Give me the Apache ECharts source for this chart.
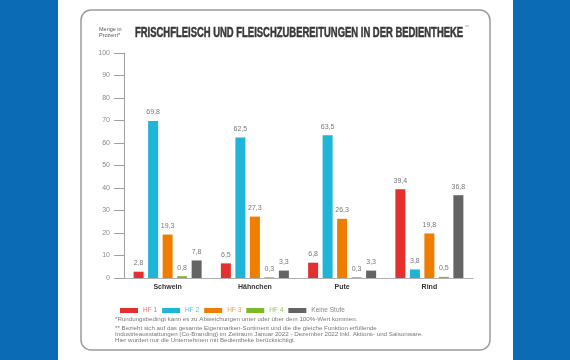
<!DOCTYPE html>
<html><head><meta charset="utf-8">
<script src="https://cdn.jsdelivr.net/npm/echarts@6/dist/echarts.min.js"></script>
<style>html,body{margin:0;padding:0;background:#fff}#c{width:570px;height:360px}</style>
</head><body><div id="c"></div>
<script>
const categories = ['Schwein', 'Hähnchen', 'Pute', 'Rind'];
const seriesNames = ['HF 1', 'HF 2', 'HF 3', 'HF 4', 'Keine Stufe'];
const hf1 = [2.8, 6.5, 6.8, 39.4];
const hf2 = [69.8, 62.5, 63.5, 3.8];
const hf3 = [19.3, 27.3, 26.3, 19.8];
const hf4 = [0.8, 0.3, 0.3, 0.5];
const keine = [7.8, 3.3, 3.3, 36.8];
const yTicks = [0, 10, 20, 30, 40, 50, 60, 70, 80, 90, 100];
const colors = ['#e3302f', '#1fb5d8', '#ef7d00', '#7cb82a', '#646464'];
const legendTextColors = ['#ee6a6a', '#4cc3e0', '#f3a04a', '#93c652', '#888888'];
const title = 'FRISCHFLEISCH UND FLEISCHZUBEREITUNGEN IN DER BEDIENTHEKE';
const footnotes = [
  '*Rundungsbedingt kann es zu Abweichungen unter oder über dem 100%-Wert kommen.',
  '** Bezieht sich auf das gesamte Eigenmarken-Sortiment und die die gleiche Funktion erfüllende',
  'Industrieausstattungen (Co-Branding) im Zeitraum Januar 2022 - Dezember 2022 inkl. Aktions- und Saisonware.',
  'Hier wurden nur die Unternehmen mit Bedientheke berücksichtigt.'
];
const allData = [hf1, hf2, hf3, hf4, keine];

const chart = echarts.init(document.getElementById('c'), null, {renderer: 'canvas'});
const font = 'Liberation Sans, Arial, sans-serif';
const footY = [319, 328, 334, 340];
const option = {
  backgroundColor: '#ffffff',
  animation: false,
  textStyle: {fontFamily: font},
  grid: {left: 124, right: 97, top: 53, bottom: 82, containLabel: false},
  xAxis: {
    type: 'category', data: categories,
    axisLine: {lineStyle: {color: '#b0b0b0', width: 1}},
    axisTick: {show: false},
    axisLabel: {color: '#333', fontSize: 7, fontWeight: 'bold', margin: 6, fontFamily: font}
  },
  yAxis: {
    type: 'value', min: yTicks[0], max: yTicks[yTicks.length - 1], interval: 10,
    axisLine: {show: true, lineStyle: {color: '#a0a0a0', width: 1}},
    axisTick: {show: true, length: 10, lineStyle: {color: '#a0a0a0'}},
    splitLine: {show: false},
    axisLabel: {color: '#888', fontSize: 7, margin: 14, fontFamily: font}
  },
  legend: {
    left: 115, top: 302, itemWidth: 18, itemHeight: 5, itemGap: 5,
    icon: 'rect',
    data: seriesNames.map((n, i) => ({name: n, textStyle: {color: legendTextColors[i]}})),
    textStyle: {fontSize: 6.5, fontFamily: font, width: 20, padding: [0, 0, 0, 0]}
  },
  series: seriesNames.map((n, i) => ({
    name: n, type: 'bar', data: allData[i], barWidth: 10, barGap: '45%',
    itemStyle: {color: colors[i]},
    label: {
      show: true, position: 'top', distance: 5, color: '#777', fontSize: 7, fontFamily: font,
      formatter: p => String(p.value).replace('.', ',')
    }
  })),
  graphic: [
    {type: 'rect', shape: {x: 0, y: 0, width: 58, height: 360}, style: {fill: '#0b6bb5'}, silent: true},
    {type: 'rect', shape: {x: 513, y: 0, width: 57, height: 360}, style: {fill: '#0b6bb5'}, silent: true},
    {type: 'rect', shape: {x: 81, y: 10, width: 409, height: 340, r: 10}, style: {fill: 'none', stroke: '#9c9c9c', lineWidth: 1.5}, silent: true},
    {type: 'text', x: 135, y: 33, scaleX: 0.675, style: {text: title, fontSize: 14, fontWeight: 'bold', fill: '#383838', fontFamily: font, textVerticalAlign: 'middle', stroke: '#383838', lineWidth: 0.5}},
    {type: 'text', x: 465, y: 28, style: {text: '**', fontSize: 5, fill: '#999', fontFamily: font, textVerticalAlign: 'middle'}},
    {type: 'text', x: 99, y: 29, style: {text: 'Menge in', fontSize: 5.5, fill: '#555', fontFamily: font, textVerticalAlign: 'middle'}},
    {type: 'text', x: 99, y: 35, style: {text: 'Prozent*', fontSize: 5.5, fill: '#555', fontFamily: font, textVerticalAlign: 'middle'}}
  ].concat(footnotes.map((t, i) => ({
    type: 'text', x: 115, y: footY[i], style: {text: t, fontSize: 6.2, fill: '#777', fontFamily: font, textVerticalAlign: 'middle'}
  })))
};
chart.setOption(option);
</script></body></html>
